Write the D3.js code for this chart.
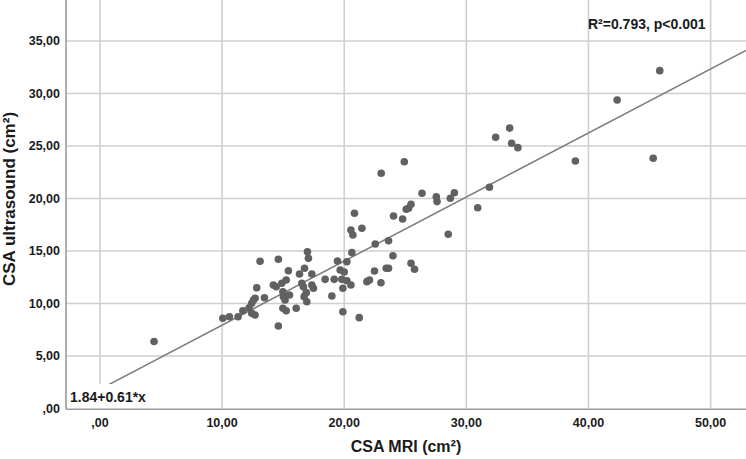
<!DOCTYPE html>
<html>
<head>
<meta charset="utf-8">
<script src="https://cdn.jsdelivr.net/npm/d3@7"></script>
<style>
  html, body { margin: 0; padding: 0; background: #ffffff; }
  svg { display: block; }
  text { font-family: "Liberation Sans", Arial, sans-serif; font-weight: bold; fill: #1a1a1a; }
</style>
</head>
<body>
<div id="chart"></div>
<script>
// ---- data ----
const mriValues = [
  10.06, 10.60, 11.31, 11.70, 12.21, 12.43, 12.57, 12.70, 12.43, 12.70,
  12.84, 13.11, 13.47, 14.20, 14.43, 14.61, 14.61, 14.89, 14.98, 15.02,
  14.98, 15.16, 15.25, 15.25, 15.43, 15.52, 16.07, 16.34, 16.53, 16.66,
  16.72, 16.75, 16.89, 16.94, 16.99, 17.07, 17.35, 17.35, 17.48, 18.44,
  18.99, 19.18, 19.45, 19.67, 19.81, 19.89, 19.89, 20.00, 20.22, 20.22,
  20.55, 20.55, 20.71, 20.63, 20.84, 21.23, 21.45, 21.86, 22.07, 22.48,
  22.54, 23.01, 23.03, 23.44, 23.63, 23.63, 23.99, 24.04, 24.78, 24.92,
  25.08, 25.27, 25.47, 25.47, 25.76, 26.37, 27.54, 27.60, 28.52, 28.69,
  29.02, 30.93, 31.89, 32.40, 33.55, 33.71, 34.22, 38.93, 42.35, 45.30,
  45.84, 4.43
];
const usValues = [
  8.59, 8.74, 8.74, 9.31, 9.59, 10.02, 10.33, 10.50, 9.07, 8.90,
  11.50, 14.02, 10.55, 11.76, 11.60, 14.21, 7.86, 11.92, 11.12, 10.65,
  9.54, 10.33, 9.31, 12.24, 13.12, 10.81, 9.54, 12.81, 11.92, 11.60,
  10.65, 13.35, 11.03, 10.17, 14.93, 14.30, 12.81, 11.76, 11.45, 12.30,
  10.71, 12.30, 14.05, 13.19, 12.30, 11.45, 9.22, 13.00, 13.98, 12.17,
  11.76, 17.00, 16.52, 14.84, 18.59, 8.65, 17.16, 12.08, 12.24, 13.10,
  15.67, 11.98, 22.40, 13.35, 13.35, 15.98, 14.55, 18.33, 18.05, 23.50,
  18.97, 19.07, 19.45, 13.83, 13.26, 20.50, 20.17, 19.70, 16.59, 20.02,
  20.55, 19.12, 21.07, 25.83, 26.70, 25.26, 24.84, 23.57, 29.38, 23.83,
  32.17, 6.38
];
const xTickValues = [0, 10, 20, 30, 40, 50];
const xTickLabels = [",00", "10,00", "20,00", "30,00", "40,00", "50,00"];
const yTickValues = [0, 5, 10, 15, 20, 25, 30, 35];
const yTickLabels = [",00", "5,00", "10,00", "15,00", "20,00", "25,00", "30,00", "35,00"];
const fitIntercept = 1.84;
const fitSlope = 0.61;
const fitLabel = "1.84+0.61*x";
const statLabel = "R²=0.793, p<0.001";
const xTitle = "CSA MRI (cm²)";
const yTitle = "CSA ultrasound (cm²)";

// ---- layout ----
const W = 746, H = 459;
const plot = { left: 66, right: 746, top: 0, bottom: 408.5 };

const x = d3.scaleLinear().domain([-2.78, 52.9]).range([plot.left, plot.right]);
const y = d3.scaleLinear().domain([0, 38.9]).range([plot.bottom, plot.top]);

const svg = d3.select("#chart").append("svg").attr("width", W).attr("height", H);

svg.append("defs").append("clipPath").attr("id", "plotclip")
  .append("rect").attr("x", plot.left).attr("y", plot.top)
  .attr("width", plot.right - plot.left).attr("height", plot.bottom - plot.top);

// gridlines
const grid = svg.append("g");
grid.selectAll("line.v").data(xTickValues).join("line")
  .attr("x1", d => x(d)).attr("x2", d => x(d))
  .attr("y1", plot.top).attr("y2", plot.bottom)
  .attr("stroke", "#cfcfcf").attr("stroke-width", 1.6);
grid.selectAll("line.h").data(yTickValues.filter(d => d > 0)).join("line")
  .attr("x1", plot.left).attr("x2", plot.right)
  .attr("y1", d => y(d)).attr("y2", d => y(d))
  .attr("stroke", "#cfcfcf").attr("stroke-width", 1.6);

// fit line
const xd = x.domain();
svg.append("line")
  .attr("clip-path", "url(#plotclip)")
  .attr("x1", x(xd[0])).attr("y1", y(fitIntercept + fitSlope * xd[0]))
  .attr("x2", x(xd[1])).attr("y2", y(fitIntercept + fitSlope * xd[1]))
  .attr("stroke", "#7b7b7b").attr("stroke-width", 1.5);

// points
const pts = mriValues.map((v, i) => ({ x: v, y: usValues[i] }));
svg.append("g").selectAll("circle").data(pts).join("circle")
  .attr("cx", d => x(d.x)).attr("cy", d => y(d.y)).attr("r", 3.8)
  .attr("fill", "#5f6163");

// fit label box
svg.append("rect").attr("x", plot.left + 1).attr("y", 384)
  .attr("width", 86).attr("height", plot.bottom - 384)
  .attr("fill", "#ffffff");
svg.append("text").attr("x", 70).attr("y", 402)
  .attr("font-size", 14).text(fitLabel);

// stat label
svg.append("text").attr("x", 588).attr("y", 29)
  .attr("font-size", 14).text(statLabel);

// axes lines
svg.append("line").attr("x1", plot.left).attr("x2", plot.left)
  .attr("y1", plot.top).attr("y2", plot.bottom + 0.8)
  .attr("stroke", "#9a9a9a").attr("stroke-width", 1.6);
svg.append("line").attr("x1", plot.left).attr("x2", plot.right)
  .attr("y1", plot.bottom + 0.8).attr("y2", plot.bottom + 0.8)
  .attr("stroke", "#9a9a9a").attr("stroke-width", 1.6);

// tick labels
svg.append("g").selectAll("text").data(xTickValues).join("text")
  .attr("x", d => x(d)).attr("y", 427)
  .attr("text-anchor", "middle").attr("font-size", 12.5)
  .text((d, i) => xTickLabels[i]);
svg.append("g").selectAll("text").data(yTickValues).join("text")
  .attr("x", 60).attr("y", d => y(d) + 4.5)
  .attr("text-anchor", "end").attr("font-size", 12.5)
  .text((d, i) => yTickLabels[i]);

// axis titles
svg.append("text").attr("x", 406).attr("y", 452)
  .attr("text-anchor", "middle").attr("font-size", 16).text(xTitle);
svg.append("text")
  .attr("transform", "translate(14.5, 199) rotate(-90)")
  .attr("text-anchor", "middle").attr("font-size", 17).text(yTitle);
</script>
</body>
</html>
